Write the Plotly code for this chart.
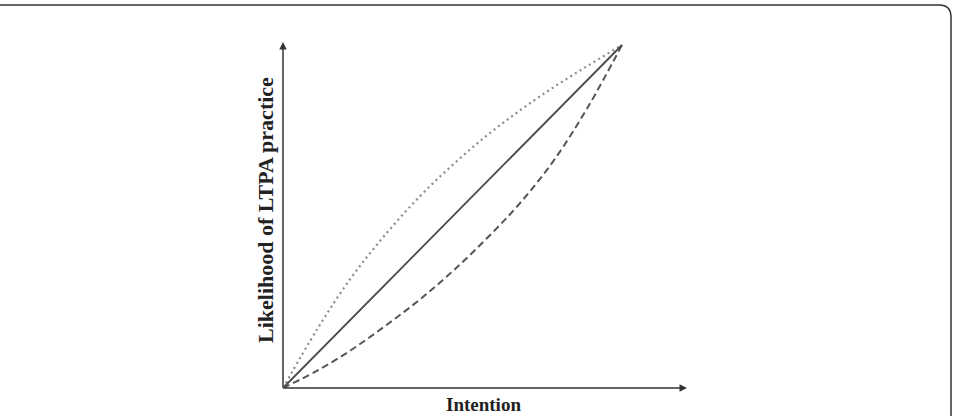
import plotly.graph_objects as go

# Data (normalized intention vs likelihood)
solid_x = [0.0, 1.0]
solid_y = [0.0, 1.0]

dotted_x = [0.0, 0.1, 0.2, 0.3, 0.4, 0.5, 0.6, 0.7, 0.8, 0.9, 1.0]
dotted_y = [0.0, 0.17, 0.32, 0.445, 0.555, 0.65, 0.735, 0.81, 0.878, 0.94, 1.0]

dashed_x = [0.0, 0.1, 0.2, 0.3, 0.4, 0.5, 0.6, 0.7, 0.8, 0.9, 1.0]
dashed_y = [0.0, 0.05, 0.11, 0.18, 0.255, 0.34, 0.435, 0.54, 0.665, 0.82, 1.0]

x_label = "Intention"
y_label = "Likelihood of LTPA practice"

W, H = 953, 416
ox, oy = 283, 388
sx, sy = 339, 343

fig = go.Figure()
fig.add_trace(go.Scatter(x=dotted_x, y=dotted_y, mode="lines", line=dict(color="#8a8a8a", width=2.2, dash="2px,3.5px", shape="spline"), hoverinfo="skip"))
fig.add_trace(go.Scatter(x=dashed_x, y=dashed_y, mode="lines", line=dict(color="#555555", width=2, dash="7px,4px", shape="spline"), hoverinfo="skip"))
fig.add_trace(go.Scatter(x=solid_x, y=solid_y, mode="lines", line=dict(color="#4a4a4a", width=1.8), hoverinfo="skip"))

xr = [-ox / sx, (W - ox) / sx]
yr = [-(H - oy) / sy, oy / sy]

# axes with arrows
fig.add_annotation(x=0, y=(oy - 42) / sy, ax=0, ay=0, xref="x", yref="y", axref="x", ayref="y",
                   showarrow=True, arrowhead=2, arrowsize=1, arrowwidth=1.5, arrowcolor="#333", text="")
fig.add_annotation(x=(687 - ox) / sx, y=0, ax=0, ay=0, xref="x", yref="y", axref="x", ayref="y",
                   showarrow=True, arrowhead=2, arrowsize=1, arrowwidth=1.5, arrowcolor="#333", text="")

fig.add_annotation(x=(483 - ox) / sx, y=(oy - 404) / sy, xref="x", yref="y", text="<b>" + x_label + "</b>",
                   showarrow=False, font=dict(family="Liberation Serif", size=19, color="#222"))
fig.add_annotation(x=(265 - ox) / sx, y=(oy - 210) / sy, xref="x", yref="y", text="<b>" + y_label + "</b>",
                   showarrow=False, textangle=-90, font=dict(family="Liberation Serif", size=22, color="#222"))

# rounded frame
def px(x):
    return x / W

def py(y):
    return 1 - y / H

top, right, r = 5, 951, 12
path = (f"M {px(-5)},{py(top)} L {px(right - r)},{py(top)} "
        f"Q {px(right)},{py(top)} {px(right)},{py(top + r)} L {px(right)},{py(H + 5)}")
fig.add_shape(type="path", path=path, xref="paper", yref="paper", line=dict(color="#333", width=1.5))

fig.update_layout(
    width=W, height=H, margin=dict(l=0, r=0, t=0, b=0),
    paper_bgcolor="white", plot_bgcolor="white", showlegend=False,
    xaxis=dict(range=xr, visible=False, fixedrange=True),
    yaxis=dict(range=yr, visible=False, fixedrange=True),
)
fig.write_html("out.html")
